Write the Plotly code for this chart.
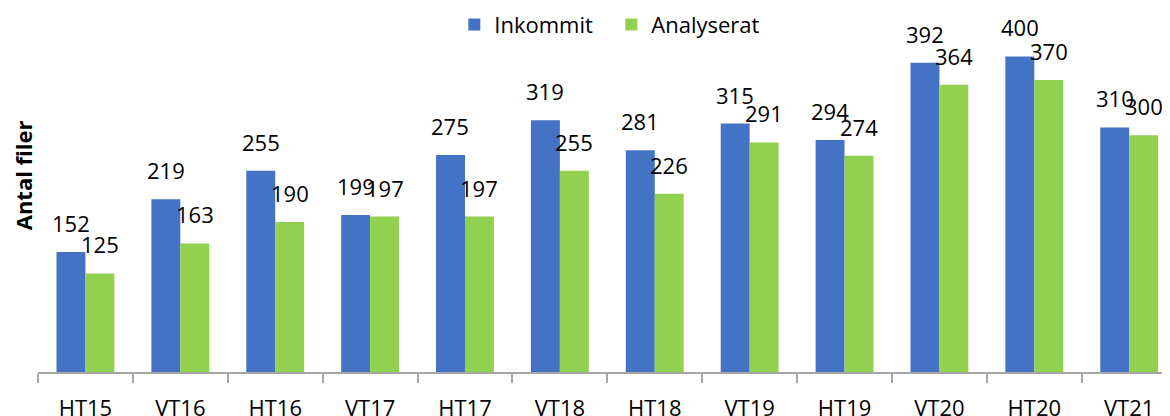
import plotly.graph_objects as go

categories = ["HT15", "VT16", "HT16", "VT17", "HT17", "VT18", "HT18", "VT19", "HT19", "VT20", "HT20", "VT21"]
inkommit = [152, 219, 255, 199, 275, 319, 281, 315, 294, 392, 400, 310]
analyserat = [125, 163, 190, 197, 197, 255, 226, 291, 274, 364, 370, 300]

BLUE = "#4472C4"
GREEN = "#92D050"
FONT = "Open Sans"

W, H = 1162, 408
ML, MR, MT, MB = 29.5, 0, 9.4, 44
PW = W - ML - MR
PH = H - MT - MB

fig = go.Figure()
fig.add_trace(go.Bar(name="Inkommit", x=categories, y=inkommit, marker=dict(color=BLUE, line=dict(width=0))))
fig.add_trace(go.Bar(name="Analyserat", x=categories, y=analyserat, marker=dict(color=GREEN, line=dict(width=0))))

annotations = []
for c, v in zip(categories, inkommit):
    annotations.append(dict(x=c, y=v, xref="x", yref="y", text=str(v), showarrow=False,
                            xshift=-14.5, yshift=12, yanchor="bottom",
                            font=dict(family=FONT, size=22, color="#000000")))
for c, v in zip(categories, analyserat):
    annotations.append(dict(x=c, y=v, xref="x", yref="y", text=str(v), showarrow=False,
                            xshift=14.5, yshift=12, yanchor="bottom",
                            font=dict(family=FONT, size=22, color="#000000")))
annotations.append(dict(x=(14 - ML) / PW, y=(H - MB - 168) / PH, xref="paper", yref="paper",
                        text="<b>Antal filer</b>", textangle=-90, showarrow=False,
                        xanchor="center", yanchor="middle",
                        font=dict(family=FONT, size=22, color="#000000")))

fig.update_layout(
    width=W, height=H,
    margin=dict(l=ML, r=MR, t=MT, b=MB, autoexpand=False),
    paper_bgcolor="white", plot_bgcolor="white",
    barmode="group", bargap=0.39, bargroupgap=0,
    showlegend=True,
    legend=dict(orientation="h", x=(446 - ML) / PW, y=1 - (17 - MT) / PH, xanchor="left", yanchor="middle",
                font=dict(family=FONT, size=22, color="#000000"), itemwidth=30,
                entrywidth=112, entrywidthmode="pixels",
                bgcolor="rgba(0,0,0,0)", traceorder="normal"),
    annotations=annotations,
    font=dict(family=FONT),
)
fig.update_xaxes(
    type="category", range=[-0.5, 11.43], showline=True, linecolor="#A6A6A6", linewidth=1.5,
    ticks="outside", tickson="boundaries", ticklen=9, tickcolor="#A6A6A6", tickwidth=1.5,
    tickfont=dict(family=FONT, size=22, color="#000000"), ticklabelstandoff=16,
    showgrid=False, zeroline=False, fixedrange=True,
)
fig.update_yaxes(
    range=[0, 450], showticklabels=False, showgrid=False, zeroline=False, showline=False, ticks="",
)

fig.write_html("out.html")
